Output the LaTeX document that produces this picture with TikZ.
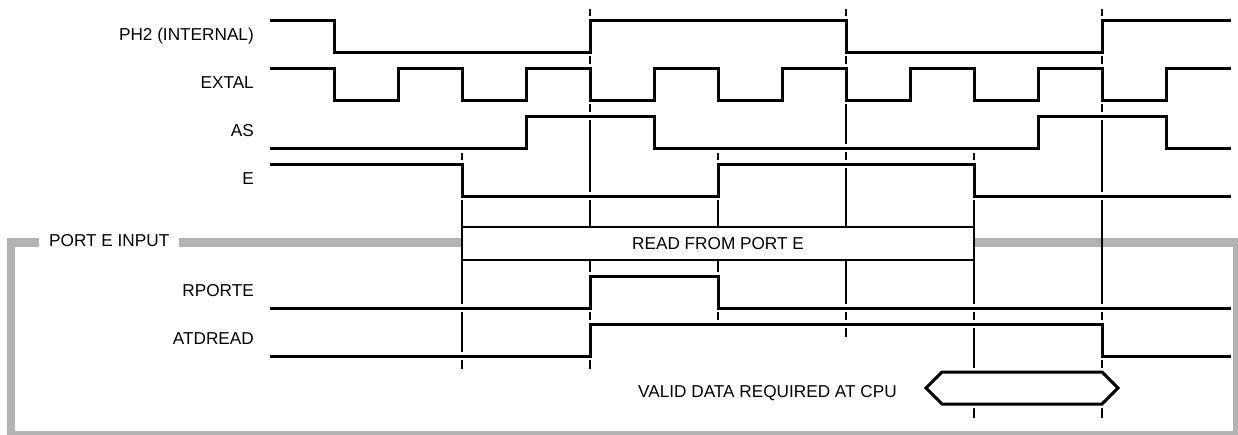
\documentclass[tikz,border=0pt]{standalone}
\usepackage{fontspec}
\setmainfont{Liberation Sans}
\definecolor{framegray}{RGB}{179,179,179}

\begin{document}
\begin{tikzpicture}[
    x=1pt, y=-1pt,
    lbl/.style={font=\fontsize{17.2}{20}\selectfont, anchor=base east, inner sep=0pt},
    txt/.style={font=\fontsize{17.2}{20}\selectfont, inner sep=0pt},
    sig/.style={line width=3pt, line join=miter, preaction={draw=white, line width=8pt}},
    guide/.style={line width=1.6pt},
    frame/.style={draw=framegray, line width=8.5pt},
    rdbox/.style={draw, fill=white, line width=1.3pt, minimum width=512pt,
                  minimum height=33pt, inner sep=0pt, font=\fontsize{17.2}{20}\selectfont},
]
\useasboundingbox (0,0) rectangle (1238,434);

% port E frame
\draw[frame] (11,242.5) rectangle (1237.5,435.5);
\node[txt, fill=white, inner xsep=10pt, inner ysep=4pt, anchor=west] (portin) at (39,240.5) {PORT E INPUT};

% timing guides
\draw[guide] (462,153) -- (462,369);
\draw[guide] (590,9)   -- (590,369);
\draw[guide] (718,153) -- (718,325);
\draw[guide] (846,9)   -- (846,337);
\draw[guide] (974,153) -- (974,418);
\draw[guide] (1102,9)  -- (1102,418);

\node[rdbox] (rdport) at (718,243.5) {READ FROM PORT E};

% signals
\node[lbl] (ph2)   at (254,40)  {PH2 (INTERNAL)};
\node[lbl] (extal) at (254,88)  {EXTAL};
\node[lbl] (as)    at (254,136) {AS};
\node[lbl] (e)     at (254,184) {E};
\node[lbl] (rporte) at (254,296) {RPORTE};
\node[lbl] (atdrd) at (254,344) {ATDREAD};

\draw[sig] (270,20) -| (334,52) -| (590,20) -| (846,52) -| (1102,20) -- (1231,20);
\draw[sig] (270,68) -| (334,100) -| (398,68) -| (462,100) -| (526,68) -| (590,100)
    -| (654,68) -| (718,100) -| (782,68) -| (846,100) -| (910,68) -| (974,100)
    -| (1038,68) -| (1102,100) -| (1166,68) -- (1231,68);
\draw[sig] (270,148) -| (526,116) -| (654,148) -| (1038,116) -| (1166,148) -- (1231,148);
\draw[sig] (270,164) -| (462,196) -| (718,164) -| (974,196) -- (1231,196);
\draw[sig] (270,308) -| (590,276) -| (718,308) -- (1231,308);
\draw[sig] (270,356) -| (590,324) -| (1102,356) -- (1231,356);

% valid data window
\draw[sig, fill=white] (926,388) -- (942,372) -- (1102,372) -- (1118,388)
    -- (1102,404) -- (942,404) -- cycle;
\node[txt, anchor=base east] (valid) at (897,397) {VALID DATA REQUIRED AT CPU};
\end{tikzpicture}
\end{document}
